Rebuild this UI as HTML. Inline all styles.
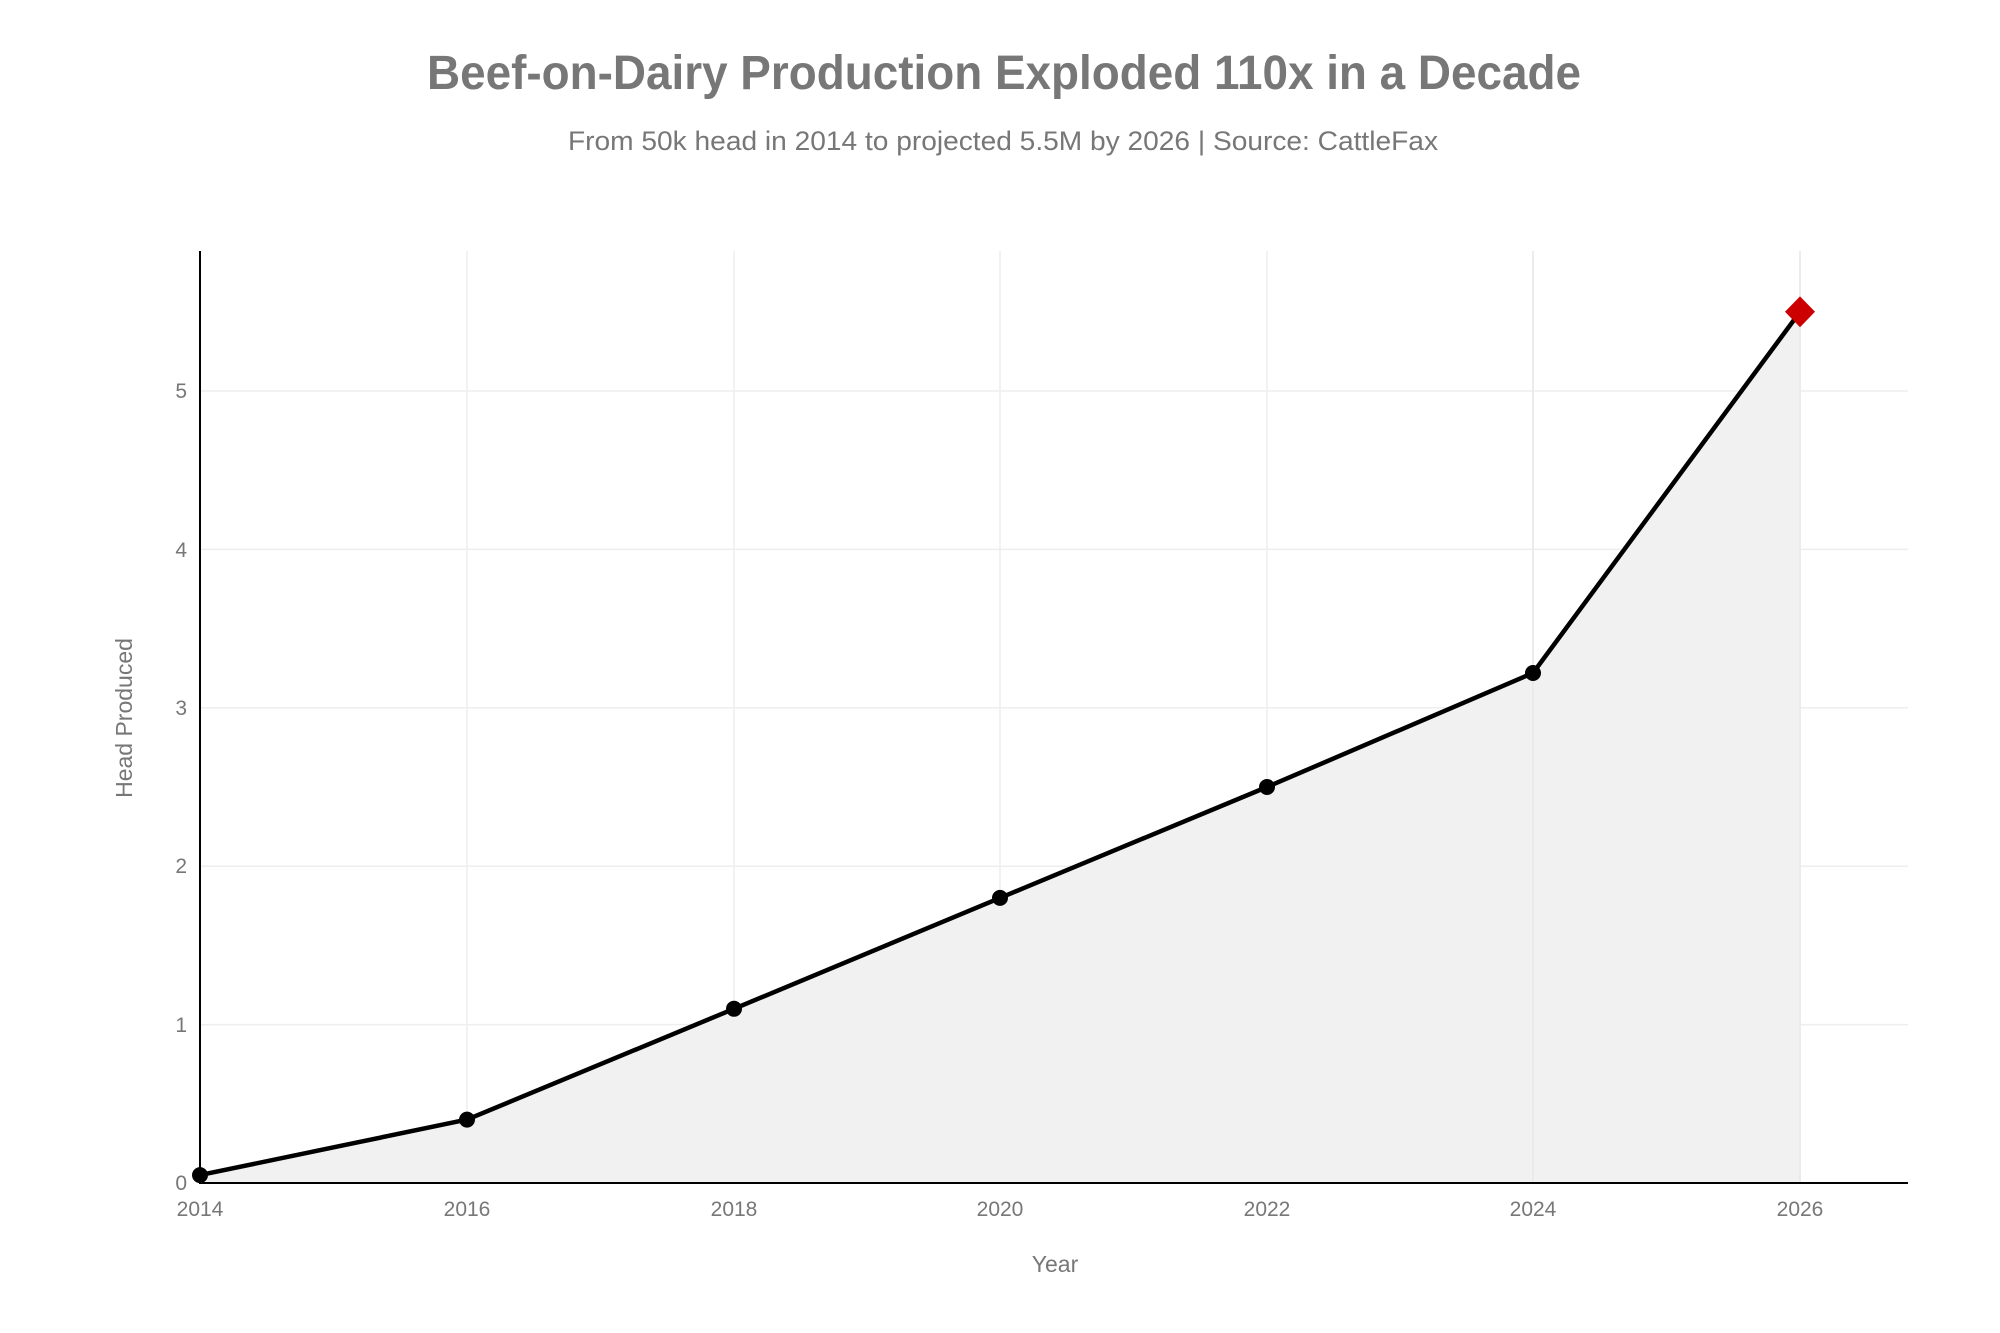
<!DOCTYPE html>
<html><head><meta charset="utf-8"><style>html,body{margin:0;padding:0;background:#fff}svg{display:block}</style></head>
<body>
<svg width="2000" height="1333" viewBox="0 0 2000 1333" xmlns="http://www.w3.org/2000/svg" font-family="Liberation Sans, sans-serif">
<rect width="2000" height="1333" fill="#fff"/>
<text x="1004" y="89" text-anchor="middle" font-size="48" font-weight="bold" fill="#777" textLength="1154" lengthAdjust="spacingAndGlyphs">Beef-on-Dairy Production Exploded 110x in a Decade</text>
<text x="1003" y="150" text-anchor="middle" font-size="27" fill="#777" textLength="870" lengthAdjust="spacingAndGlyphs">From 50k head in 2014 to projected 5.5M by 2026 | Source: CattleFax</text>
<g stroke="#eee" stroke-width="1.5">
<line x1="200" y1="1024.6" x2="1908" y2="1024.6"/>
<line x1="200" y1="866.2" x2="1908" y2="866.2"/>
<line x1="200" y1="707.8" x2="1908" y2="707.8"/>
<line x1="200" y1="549.4" x2="1908" y2="549.4"/>
<line x1="200" y1="391" x2="1908" y2="391"/>
<line x1="467" y1="251" x2="467" y2="1183"/>
<line x1="734" y1="251" x2="734" y2="1183"/>
<line x1="1000" y1="251" x2="1000" y2="1183"/>
<line x1="1267" y1="251" x2="1267" y2="1183"/>
<line x1="1533" y1="251" x2="1533" y2="1183"/>
<line x1="1800" y1="251" x2="1800" y2="1183"/>
</g>
<polygon points="200,1175.1 467,1119.6 734,1008.8 1000,897.9 1267,787 1533,673 1800,311.8 1800,1183 200,1183" fill="#f1f1f1"/>
<line x1="1533" y1="251" x2="1533" y2="1183" stroke="#e8e8e8" stroke-width="1.5"/>
<line x1="1800" y1="251" x2="1800" y2="1183" stroke="#e8e8e8" stroke-width="1.5"/>
<polyline points="200,1175.1 467,1119.6 734,1008.8 1000,897.9 1267,787 1533,673 1800,311.8" fill="none" stroke="#000" stroke-width="4.5" stroke-linejoin="round"/>
<line x1="200" y1="251" x2="200" y2="1183" stroke="#000" stroke-width="2"/>
<line x1="199" y1="1183" x2="1908" y2="1183" stroke="#000" stroke-width="2"/>
<g fill="#000">
<circle cx="200" cy="1175.1" r="8"/><circle cx="467" cy="1119.6" r="8"/><circle cx="734" cy="1008.8" r="8"/><circle cx="1000" cy="897.9" r="8"/><circle cx="1267" cy="787" r="8"/><circle cx="1533" cy="673" r="8"/>
</g>
<polygon points="1800,296.4 1815,311.8 1800,327.2 1785,311.8" fill="#cc0000"/>
<g font-size="21" fill="#777" text-anchor="end">
<text x="187" y="1190">0</text><text x="187" y="1032">1</text><text x="187" y="873">2</text><text x="187" y="715">3</text><text x="187" y="557">4</text><text x="187" y="398">5</text>
</g>
<g font-size="21" fill="#777" text-anchor="middle">
<text x="200" y="1216">2014</text><text x="467" y="1216">2016</text><text x="734" y="1216">2018</text><text x="1000" y="1216">2020</text><text x="1267" y="1216">2022</text><text x="1533" y="1216">2024</text><text x="1800" y="1216">2026</text>
</g>
<text x="1055" y="1272" text-anchor="middle" font-size="23" fill="#777">Year</text>
<text transform="translate(132,718) rotate(-90)" text-anchor="middle" font-size="23" fill="#777">Head Produced</text>
</svg>
</body></html>
